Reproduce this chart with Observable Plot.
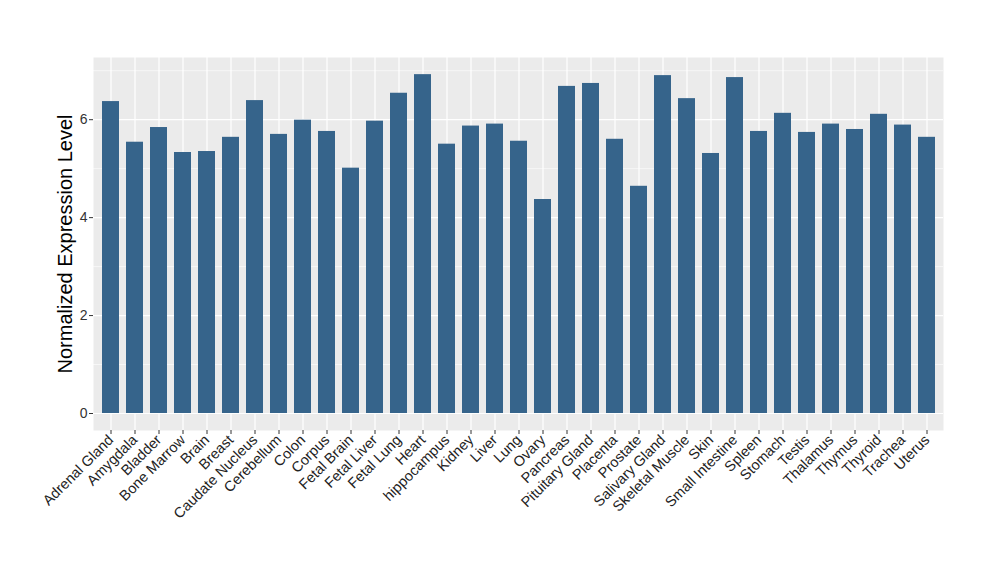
<!DOCTYPE html>
<html>
<head>
<meta charset="utf-8">
<script src="https://cdn.jsdelivr.net/npm/d3@7"></script>
<script src="https://cdn.jsdelivr.net/npm/@observablehq/plot@0.6"></script>
<style>
  html, body { margin: 0; padding: 0; background: #fff; }
  #chart { width: 1000px; height: 580px; }
  svg { font-family: "Liberation Sans", Arial, sans-serif; }
</style>
</head>
<body>
<div id="chart"></div>
<script>
const tissues = ["Adrenal Gland","Amygdala","Bladder","Bone Marrow","Brain","Breast","Caudate Nucleus","Cerebellum","Colon","Corpus","Fetal Brain","Fetal Liver","Fetal Lung","Heart","hippocampus","Kidney","Liver","Lung","Ovary","Pancreas","Pituitary Gland","Placenta","Prostate","Salivary Gland","Skeletal Muscle","Skin","Small Intestine","Spleen","Stomach","Testis","Thalamus","Thymus","Thyroid","Trachea","Uterus"];
const expression = [6.37,5.54,5.84,5.33,5.35,5.64,6.39,5.70,5.99,5.76,5.01,5.97,6.54,6.92,5.50,5.87,5.91,5.56,4.37,6.68,6.74,5.60,4.64,6.90,6.43,5.31,6.86,5.76,6.13,5.74,5.91,5.80,6.11,5.89,5.64];
const majorTicks = [0, 2, 4, 6];
const minorTicks = [1, 3, 5, 7];
const yTitle = "Normalized Expression Level";

const data = tissues.map((t, i) => ({tissue: t, value: expression[i]}));

const chart = Plot.plot({
  width: 1000,
  height: 580,
  marginLeft: 93,
  marginRight: 57,
  marginTop: 57,
  marginBottom: 150,
  style: {fontFamily: "Liberation Sans, Arial, sans-serif", background: "#fff"},
  x: {domain: tissues, paddingInner: 0.3, paddingOuter: 0.25, label: null},
  y: {domain: [-0.347, 7.27], label: null},
  marks: [
    Plot.frame({fill: "#EBEBEB", stroke: null}),
    Plot.ruleY(minorTicks, {stroke: "#fff", strokeWidth: 0.6}),
    Plot.ruleY(majorTicks, {stroke: "#fff", strokeWidth: 1.2}),
    Plot.gridX({stroke: "#fff", strokeOpacity: 1, strokeWidth: 1.2}),
    Plot.barY(data, {x: "tissue", y: "value", fill: "#36648B"}),
    Plot.axisY({ticks: majorTicks, tickSize: 4, tickPadding: 2, fontSize: 14, color: "#333", stroke: "#333", label: null}),
    Plot.axisX({tickSize: 4, tickPadding: 3, tickRotate: -45, fontSize: 14.5, color: "#222", stroke: "#333", label: null}),
    Plot.text([yTitle], {frameAnchor: "left", dx: -28, rotate: -90, fontSize: 20, fill: "#000", textAnchor: "middle"})
  ]
});
document.getElementById("chart").appendChild(chart);
</script>
</body>
</html>
